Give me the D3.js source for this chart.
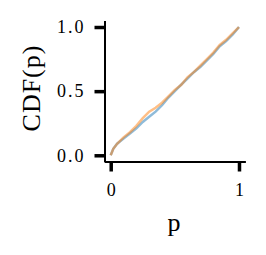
<!DOCTYPE html>
<html>
<head>
<meta charset="utf-8">
<script src="https://cdn.jsdelivr.net/npm/d3@7"></script>
<style>
  body { margin: 0; background: #fff; }
</style>
</head>
<body>
<div id="chart"></div>
<script>
// empirical CDF of p-values, two runs
var pGrid = [0, 0.02, 0.05, 0.1, 0.15, 0.2, 0.25, 0.3, 0.35, 0.4, 0.45, 0.5, 0.55, 0.6, 0.65, 0.7, 0.75, 0.8, 0.85, 0.9, 0.95, 1];
var cdfBlue = [0, 0.05, 0.09, 0.13, 0.17, 0.21, 0.26, 0.3, 0.34, 0.39, 0.45, 0.5, 0.55, 0.6, 0.65, 0.69, 0.74, 0.79, 0.85, 0.89, 0.94, 1];
var cdfOrange = [0, 0.05, 0.09, 0.14, 0.18, 0.23, 0.29, 0.34, 0.37, 0.41, 0.46, 0.51, 0.55, 0.61, 0.65, 0.7, 0.75, 0.8, 0.86, 0.9, 0.95, 1];
var xTicks = [0, 1];
var yTicks = [0, 0.5, 1];

var width = 266, height = 255;
var serif = '"Liberation Serif", "DejaVu Serif", serif';
var svg = d3.select("#chart").append("svg")
    .attr("width", width)
    .attr("height", height);

var x = d3.scaleLinear().domain([-0.05, 1.05]).range([104.3, 245.4]);
var y = d3.scaleLinear().domain([-0.05, 1.05]).range([161.7, 20.6]);

var line = d3.line()
    .x(function(d) { return x(d[0]); })
    .y(function(d) { return y(d[1]); });

var series = [
  {vals: cdfBlue, color: "#1f77b4"},
  {vals: cdfOrange, color: "#ff7f0e"}
];
series.forEach(function(s) {
  svg.append("path")
    .datum(pGrid.map(function(p, i) { return [p, s.vals[i]]; }))
    .attr("d", line)
    .attr("fill", "none")
    .attr("stroke", s.color)
    .attr("stroke-opacity", 0.5)
    .attr("stroke-width", 2.5);
});

// axes, offset from the data like seaborn despine
var xAxis = svg.append("g")
    .attr("transform", "translate(0," + 161.5 + ")")
    .call(d3.axisBottom(x).tickValues(xTicks).tickFormat(d3.format("d")).tickSize(10).tickSizeOuter(0).tickPadding(12));
var yAxis = svg.append("g")
    .attr("transform", "translate(" + 104.5 + ",0)")
    .call(d3.axisLeft(y).tickValues(yTicks).tickFormat(d3.format(".1f")).tickSize(10).tickSizeOuter(0).tickPadding(9));

[xAxis, yAxis].forEach(function(a) {
  a.select(".domain").attr("stroke", "#000").attr("stroke-width", 2);
  a.selectAll(".tick line").attr("stroke", "#000").attr("stroke-width", 3.5);
  a.selectAll(".tick text")
    .style("font-size", "18px")
    .style("font-family", serif)
    .style("fill", "#000");
});
yAxis.selectAll(".tick text").style("letter-spacing", "2px");

svg.append("text")
    .attr("x", 174).attr("y", 231)
    .attr("text-anchor", "middle")
    .style("font-size", "26px")
    .style("font-family", serif)
    .style("fill", "#000")
    .text("p");

svg.append("text")
    .attr("transform", "translate(40,88) rotate(-90)")
    .attr("text-anchor", "middle")
    .style("font-size", "26px")
    .style("letter-spacing", "1px")
    .style("font-family", serif)
    .style("fill", "#000")
    .text("CDF(p)");
</script>
</body>
</html>
